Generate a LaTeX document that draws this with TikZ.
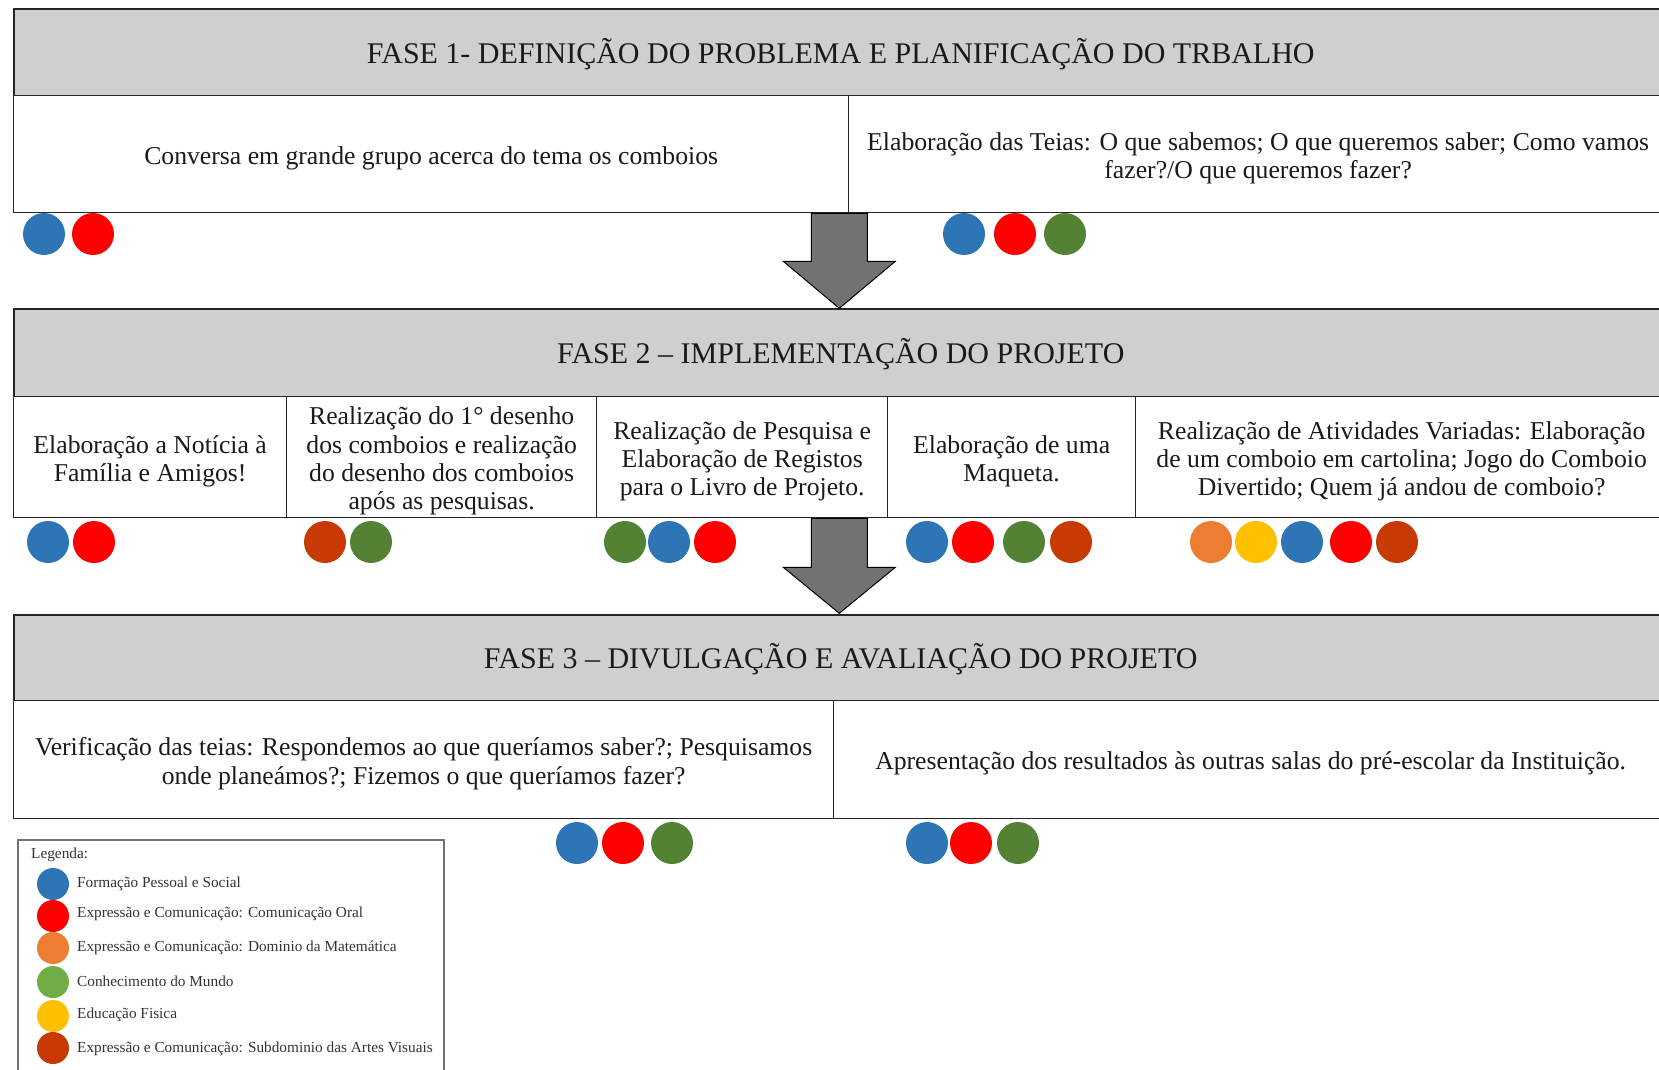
\documentclass[tikz,border=0pt]{standalone}
\usepackage{fontspec}
\setmainfont{Liberation Serif}
\usetikzlibrary{calc}
\definecolor{hdr}{HTML}{D0CECE}
\definecolor{cblue}{HTML}{2E75B6}
\definecolor{cred}{HTML}{FF0000}
\definecolor{cgreen}{HTML}{548235}
\definecolor{cbrown}{HTML}{C83A04}
\definecolor{corange}{HTML}{ED7D31}
\definecolor{cyellow}{HTML}{FFC000}
\definecolor{lgreen}{HTML}{70AD47}
\definecolor{arrowgray}{HTML}{767171}
\definecolor{txtc}{HTML}{1A1A1A}
\begin{document}
\begin{tikzpicture}[x=1pt,y=-1pt,
  hdrbox/.style={draw=black!85, line width=1.6pt, fill=hdr, anchor=north west, inner sep=0},
  hdrtxt/.style={inner sep=0, font=\fontsize{30}{34}\selectfont, text=txtc, yshift=-1.5pt},
  cell/.style={draw=black!85, line width=1.3pt, fill=white, anchor=north west, inner sep=0},
  celltxt/.style={inner sep=0, align=center, font=\fontsize{25.7}{28.3}\selectfont, text=txtc, yshift=-4pt},
  dot/.style={circle, minimum size=42pt, inner sep=0},
  ldot/.style={circle, minimum size=32pt, inner sep=0},
  ltxt/.style={anchor=west, inner sep=0, font=\fontsize{15.3}{17}\selectfont, text=black!80},
  blockarrow/.style={draw=black, line width=1pt, fill=arrowgray}]
\useasboundingbox (0,0) rectangle (1659,1069);
\clip (0,0) rectangle (1659,1069);

% Phase 1
\node[hdrbox, minimum width=1654, minimum height=87] (h1) at (13,8) {};
\node[hdrtxt] (h1t) at (h1.center) {FASE 1- DEFINIÇÃO DO PROBLEMA E PLANIFICAÇÃO DO TRBALHO};
\node[cell, minimum width=835, minimum height=117] (c11) at (13,95) {};
\node[celltxt] (c11t) at (c11.center) {Conversa em grande grupo acerca do tema os comboios};
\node[cell, minimum width=819, minimum height=117] (c12) at (848,95) {};
\node[celltxt] (c12t) at (c12.center) {Elaboração das Teias: O que sabemos; O que queremos saber; Como vamos\\fazer?/O que queremos fazer?};

\node[dot, fill=cblue] (d11a) at (44,234) {};
\node[dot, fill=cred] (d11b) at (93,234) {};
\node[dot, fill=cblue] (d12a) at (964,234) {};
\node[dot, fill=cred] (d12b) at (1015,234) {};
\node[dot, fill=cgreen] (d12c) at (1065,234) {};

% Phase 2
\node[hdrbox, minimum width=1654, minimum height=88] (h2) at (13,308) {};
\node[hdrtxt] (h2t) at (h2.center) {FASE 2 – IMPLEMENTAÇÃO DO PROJETO};
\node[cell, minimum width=273, minimum height=121] (c21) at (13,396) {};
\node[celltxt] (c21t) at (c21.center) {Elaboração a Notícia à\\Família e Amigos!};
\node[cell, minimum width=310, minimum height=121] (c22) at (286,396) {};
\node[celltxt] (c22t) at (c22.center) {Realização do 1° desenho\\dos comboios e realização\\do desenho dos comboios\\após as pesquisas.};
\node[cell, minimum width=291, minimum height=121] (c23) at (596,396) {};
\node[celltxt] (c23t) at (c23.center) {Realização de Pesquisa e\\Elaboração de Registos\\para o Livro de Projeto.};
\node[cell, minimum width=248, minimum height=121] (c24) at (887,396) {};
\node[celltxt] (c24t) at (c24.center) {Elaboração de uma\\Maqueta.};
\node[cell, minimum width=532, minimum height=121] (c25) at (1135,396) {};
\node[celltxt] (c25t) at (c25.center) {Realização de Atividades Variadas: Elaboração\\de um comboio em cartolina; Jogo do Comboio\\Divertido; Quem já andou de comboio?};

\node[dot, fill=cblue] (d21a) at (48,542) {};
\node[dot, fill=cred] (d21b) at (94,542) {};
\node[dot, fill=cbrown] (d22a) at (325,542) {};
\node[dot, fill=cgreen] (d22b) at (371,542) {};
\node[dot, fill=cgreen] (d23a) at (625,542) {};
\node[dot, fill=cblue] (d23b) at (669,542) {};
\node[dot, fill=cred] (d23c) at (715,542) {};
\node[dot, fill=cblue] (d24a) at (927,542) {};
\node[dot, fill=cred] (d24b) at (973,542) {};
\node[dot, fill=cgreen] (d24c) at (1024,542) {};
\node[dot, fill=cbrown] (d24d) at (1071,542) {};
\node[dot, fill=corange] (d25a) at (1211,542) {};
\node[dot, fill=cyellow] (d25b) at (1256,542) {};
\node[dot, fill=cblue] (d25c) at (1302,542) {};
\node[dot, fill=cred] (d25d) at (1351,542) {};
\node[dot, fill=cbrown] (d25e) at (1397,542) {};

% Phase 3
\node[hdrbox, minimum width=1654, minimum height=86] (h3) at (13,614) {};
\node[hdrtxt] (h3t) at (h3.center) {FASE 3 – DIVULGAÇÃO E AVALIAÇÃO DO PROJETO};
\node[cell, minimum width=820, minimum height=118] (c31) at (13,700) {};
\node[celltxt] (c31t) at (c31.center) {Verificação das teias: Respondemos ao que queríamos saber?; Pesquisamos\\onde planeámos?; Fizemos o que queríamos fazer?};
\node[cell, minimum width=834, minimum height=118] (c32) at (833,700) {};
\node[celltxt] (c32t) at (c32.center) {Apresentação dos resultados às outras salas do pré-escolar da Instituição.};

\node[dot, fill=cblue] (d31a) at (577,843) {};
\node[dot, fill=cred] (d31b) at (623,843) {};
\node[dot, fill=cgreen] (d31c) at (672,843) {};
\node[dot, fill=cblue] (d32a) at (927,843) {};
\node[dot, fill=cred] (d32b) at (971,843) {};
\node[dot, fill=cgreen] (d32c) at (1018,843) {};

% Block arrows
\draw[blockarrow] ($(c11.south east)+(-38,0)$) -- ++(0,48) -- ++(-28,0) -- ++(56,47) -- ++(56,-47) -- ++(-28,0) -- ++(0,-48) -- cycle;
\draw[blockarrow] ($(c23.south east)+(-77,0)$) -- ++(0,49) -- ++(-28,0) -- ++(56,46) -- ++(56,-46) -- ++(-28,0) -- ++(0,-49) -- cycle;

% Legend
\node[draw=black!55, line width=1.5pt, fill=white, anchor=north west, minimum width=426, minimum height=260, inner sep=0] (leg) at (17,839) {};
\node[ltxt] (legt) at (31,855) {Legenda:};
\node[ldot, fill=cblue] (l1) at (53,884) {};
\node[ldot, fill=cred] (l2) at (53,916) {};
\node[ldot, fill=corange] (l3) at (53,948) {};
\node[ldot, fill=lgreen] (l4) at (53,982) {};
\node[ldot, fill=cyellow] (l5) at (53,1016) {};
\node[ldot, fill=cbrown] (l6) at (53,1048) {};
\node[ltxt] (lt1) at (77,884) {Formação Pessoal e Social};
\node[ltxt] (lt2) at (77,914) {Expressão e Comunicação: Comunicação Oral};
\node[ltxt] (lt3) at (77,948) {Expressão e Comunicação: Dominio da Matemática};
\node[ltxt] (lt4) at (77,981) {Conhecimento do Mundo};
\node[ltxt] (lt5) at (77,1015) {Educação Fisica};
\node[ltxt] (lt6) at (77,1049) {Expressão e Comunicação: Subdominio das Artes Visuais};
\end{tikzpicture}
\end{document}
